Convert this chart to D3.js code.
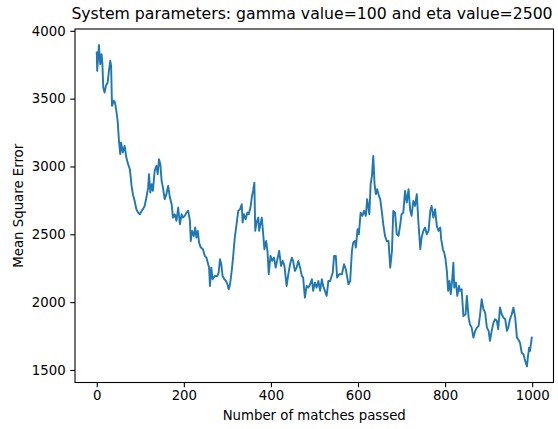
<!DOCTYPE html>
<html>
<head>
<meta charset="utf-8">
<script src="https://cdn.jsdelivr.net/npm/d3@7"></script>
<style>
  html, body { margin: 0; padding: 0; background: #fff; }
  svg text { font-family: "DejaVu Sans", sans-serif; fill: #000; }
</style>
</head>
<body>
<svg id="chart" width="558" height="429"></svg>
<script>
const titleText = "System parameters: gamma value=100 and eta value=2500";
const xLabel = "Number of matches passed";
const yLabel = "Mean Square Error";
const xTicks = [0, 200, 400, 600, 800, 1000];
const yTicks = [1500, 2000, 2500, 3000, 3500, 4000];

const steps = [0,1,5,8,11,13,15,18,21,25,28,31,33,35,39,42,45,48,51,54,56,60,64,68,72,76,80,83,87,91,95,99,103,106,110,114,118,120,123,126,129,133,137,140,143,146,149,152,156,160,164,168,172,175,179,183,187,191,195,198,202,206,210,214,216,219,223,226,229,232,235,239,244,248,252,255,258,260,263,266,271,277,280,283,286,289,293,297,300,303,306,310,313,317,321,325,329,333,335,338,342,346,349,353,356,359,362,364,367,371,373,379,382,385,389,392,395,399,403,407,411,414,419,423,427,431,436,440,444,448,451,455,459,463,467,471,474,478,482,486,490,494,497,501,505,509,513,517,520,524,528,532,536,542,545,549,552,557,563,568,572,578,582,586,589,593,595,599,602,606,610,614,618,621,626,629,632,635,638,641,644,648,651,655,658,662,666,670,674,678,681,685,689,693,697,700,704,708,712,716,720,723,727,731,735,739,743,746,750,754,758,762,766,769,773,777,781,785,789,791,795,798,801,804,807,810,813,816,819,821,825,828,832,834,838,842,847,850,854,857,861,865,869,873,877,880,884,888,892,896,900,903,907,911,915,919,922,926,930,934,938,942,945,949,953,957,961,965,968,972,976,980,984,988,990,993,995,999];

const mse = [3840,3705,3895,3754,3828,3754,3582,3545,3594,3619,3705,3779,3742,3447,3484,3471,3410,3336,3189,3091,3176,3103,3152,3066,3017,2980,2857,2796,2746,2685,2660,2648,2673,2685,2709,2771,2844,2943,2808,2870,2820,2968,3004,2943,3054,3017,2894,2844,2759,2796,2857,2771,2722,2623,2648,2599,2697,2574,2648,2623,2636,2660,2673,2599,2451,2525,2488,2550,2476,2525,2439,2402,2390,2341,2328,2291,2254,2119,2254,2169,2193,2193,2218,2316,2279,2193,2169,2156,2132,2095,2130,2230,2328,2476,2574,2673,2685,2722,2587,2648,2611,2660,2648,2697,2771,2820,2881,2525,2587,2623,2525,2623,2513,2390,2451,2378,2206,2341,2304,2328,2254,2304,2378,2267,2304,2267,2119,2206,2279,2328,2304,2230,2254,2304,2254,2193,2181,2033,2119,2107,2132,2169,2083,2144,2107,2156,2083,2169,2119,2083,2046,2156,2156,2218,2341,2341,2181,2206,2206,2279,2242,2132,2156,2378,2439,2451,2402,2538,2501,2660,2636,2673,2636,2759,2648,2870,2931,3078,2870,2796,2833,2783,2759,2660,2574,2488,2451,2451,2254,2378,2673,2660,2501,2488,2574,2648,2660,2820,2734,2833,2673,2636,2746,2709,2796,2574,2390,2476,2525,2550,2501,2525,2673,2709,2623,2685,2562,2525,2550,2464,2390,2365,2316,2230,2083,2156,2058,2156,2291,2107,2144,2046,2119,2083,2095,1898,1911,2046,1886,1837,1812,1738,1788,1812,1825,1898,2021,1948,1923,1812,1788,1714,1788,1849,1874,1861,1800,1960,1911,1886,1874,1788,1812,1874,1911,1960,1886,1738,1726,1701,1627,1615,1566,1526,1591,1664,1640,1738];

const data = steps.map((s, i) => ({ x: s, y: mse[i] }));

const svg = d3.select("#chart");
const mLeft = 75, mRight = 553.5, mTop = 29, mBottom = 382.5;

// matplotlib-like 5% margins
const xExt = d3.extent(steps), yExt = d3.extent(mse);
const xPad = (xExt[1] - xExt[0]) * 0.05, yPad = (yExt[1] - yExt[0]) * 0.05;
const x = d3.scaleLinear().domain([xExt[0] - xPad, xExt[1] + xPad]).range([mLeft, mRight]);
const y = d3.scaleLinear().domain([yExt[0] - yPad, yExt[1] + yPad]).range([mBottom, mTop]);

const line = d3.line().x(d => x(d.x)).y(d => y(d.y));
svg.append("path")
  .datum(data)
  .attr("d", line)
  .attr("fill", "none")
  .attr("stroke", "#1f77b4")
  .attr("stroke-width", 1.9)
  .attr("stroke-linejoin", "round")
  .attr("stroke-linecap", "square");

const fontSize = 13.3;
const xAxis = d3.axisBottom(x).tickValues(xTicks).tickSize(4.7).tickPadding(3.5).tickFormat(d3.format("d"));
const gx = svg.append("g").attr("transform", `translate(0,${mBottom})`).call(xAxis);
const yAxis = d3.axisLeft(y).tickValues(yTicks).tickSize(4.7).tickPadding(4.7).tickFormat(d3.format("d"));
const gy = svg.append("g").attr("transform", `translate(${mLeft},0)`).call(yAxis);
[gx, gy].forEach(g => {
  g.select(".domain").remove();
  g.selectAll(".tick line").attr("stroke", "#000").attr("stroke-width", 1.1);
  g.selectAll(".tick text").attr("font-size", fontSize).attr("font-family", "DejaVu Sans").attr("fill", "#000");
});

// spines
svg.append("rect")
  .attr("x", mLeft).attr("y", mTop)
  .attr("width", mRight - mLeft).attr("height", mBottom - mTop)
  .attr("fill", "none").attr("stroke", "#000").attr("stroke-width", 1.1);

svg.append("text")
  .attr("x", 312).attr("y", 19)
  .attr("text-anchor", "middle")
  .attr("font-size", 15.7)
  .text(titleText);

svg.append("text")
  .attr("x", (mLeft + mRight) / 2).attr("y", 420)
  .attr("text-anchor", "middle")
  .attr("font-size", fontSize)
  .text(xLabel);

svg.append("text")
  .attr("transform", `translate(23,${(mTop + mBottom) / 2}) rotate(-90)`)
  .attr("text-anchor", "middle")
  .attr("font-size", fontSize)
  .text(yLabel);
</script>
</body>
</html>
